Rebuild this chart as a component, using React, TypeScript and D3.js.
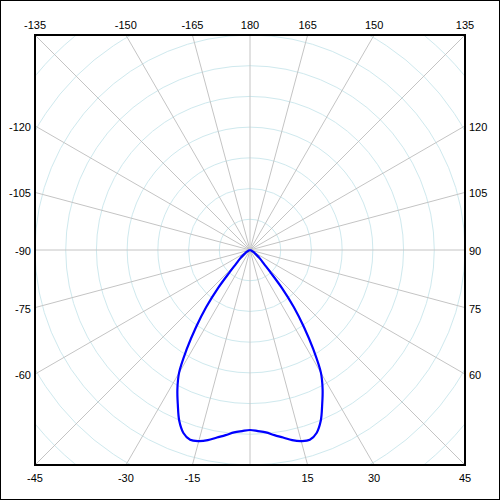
import React from "react";
import * as d3 from "d3";

// Polar data: angle in degrees (0 = down, 90 = right, 180 = up), intensity value
const angles: number[] = [
  -90, -80, -70, -60, -55, -50, -45, -42.5, -40, -37.5, -35, -32.5, -30, -27.5, -25, -22.5, -20, -17.5, -15,
  -12.5, -10, -7.5, -5, -2.5, 0, 2.5, 5, 7.5, 10, 12.5, 15, 17.5, 20, 22.5, 25, 27.5, 30, 32.5, 35, 37.5, 40,
  42.5, 45, 50, 55, 60, 70, 80, 90,
];
const values: number[] = [
  0, 0, 2, 7, 11, 20, 33, 49, 81, 117, 153, 192, 231, 256, 278, 301, 317, 324, 322,
  317, 310, 304, 298, 295, 293, 295, 298, 304, 310, 317, 322, 324, 317, 301, 278, 256, 231, 192, 153, 117, 81,
  49, 33, 20, 11, 7, 2, 0, 0,
];

const ringValues: number[] = [50, 100, 150, 200, 250, 300, 350, 400, 450];
const spokeAngles: number[] = d3.range(-180, 180, 15);

const topLabels: number[] = [-135, -150, -165, 180, 165, 150, 135];
const leftLabels: number[] = [-120, -105, -90, -75, -60];
const rightLabels: number[] = [120, 105, 90, 75, 60];
const bottomLabels: number[] = [-45, -30, -15, 15, 30, 45];

export default function App() {
  const W = 500;
  const x0 = 35, y0 = 35, size = 430;
  const cx = x0 + size / 2, cy = y0 + size / 2;
  const half = size / 2;
  const r = d3.scaleLinear().domain([0, 350]).range([0, half]);
  const rad = (d: number) => (d * Math.PI) / 180;

  const line = d3
    .lineRadial<number>()
    .angle((_, i) => Math.PI - rad(angles[i]))
    .radius((v) => r(v))
    .curve(d3.curveCatmullRom.alpha(0.5));

  const edgeX = (deg: number) => cx + half * Math.tan(rad(deg)) * 1; // for top/bottom
  const font = { fontFamily: "'Liberation Sans', Arial, sans-serif", fontSize: 11, fill: "#000" };

  // position along top edge: direction (sin, cos) with cos<0
  const topX = (deg: number) => cx + (-half) * Math.sin(rad(deg)) / Math.cos(rad(deg));
  const bottomX = (deg: number) => cx + half * Math.sin(rad(deg)) / Math.cos(rad(deg));
  const sideY = (deg: number, side: number) => cy + side * half * Math.cos(rad(deg)) / Math.sin(rad(deg));

  return (
    <svg width={W} height={W} style={{ position: "absolute", left: 0, top: 0 }}>
      <defs>
        <clipPath id="box">
          <rect x={x0} y={y0} width={size} height={size} />
        </clipPath>
      </defs>
      <rect x={0} y={0} width={W} height={W} fill="#fff" />
      <rect x={0.5} y={0.5} width={W - 1} height={W - 1} fill="none" stroke="#000" strokeWidth={1} />
      <g clipPath="url(#box)">
        {ringValues.map((v) => (
          <circle key={v} cx={cx} cy={cy} r={r(v)} fill="none" stroke="#cfe9ee" strokeWidth={1} />
        ))}
        {spokeAngles.map((a) => (
          <line
            key={a}
            x1={cx}
            y1={cy}
            x2={cx + 400 * Math.sin(rad(a))}
            y2={cy + 400 * Math.cos(rad(a))}
            stroke="#c4c4c4"
            strokeWidth={1}
          />
        ))}
        <path
          d={line(values) || ""}
          transform={`translate(${cx},${cy})`}
          fill="none"
          stroke="#0000ff"
          strokeWidth={2.2}
          strokeLinejoin="round"
        />
      </g>
      <rect x={x0} y={y0} width={size} height={size} fill="none" stroke="#000" strokeWidth={2} />
      {topLabels.map((a) => (
        <text key={"t" + a} x={topX(a)} y={y0 - 6} textAnchor="middle" {...font}>
          {String(a)}
        </text>
      ))}
      {bottomLabels.map((a) => (
        <text key={"b" + a} x={bottomX(a)} y={y0 + size + 17} textAnchor="middle" {...font}>
          {String(a)}
        </text>
      ))}
      {leftLabels.map((a) => (
        <text key={"l" + a} x={x0 - 4} y={sideY(a, -1) + 5} textAnchor="end" {...font}>
          {String(a)}
        </text>
      ))}
      {rightLabels.map((a) => (
        <text key={"r" + a} x={x0 + size + 4} y={sideY(a, 1) + 5} textAnchor="start" {...font}>
          {String(a)}
        </text>
      ))}
    </svg>
  );
}
